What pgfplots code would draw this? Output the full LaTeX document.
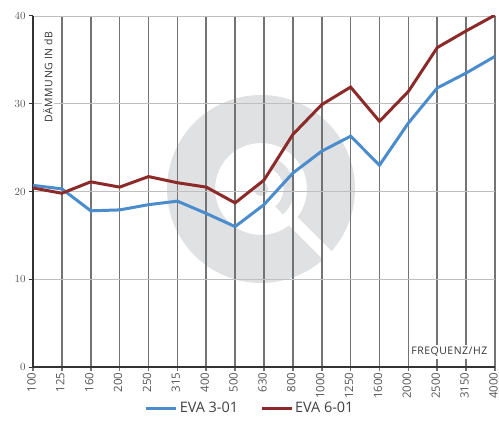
\documentclass[border=0pt]{standalone}
\usepackage{pgfplots}
\pgfplotsset{compat=1.18}
\usepackage{pgfplotstable}
\usepackage{fontspec}
\setmainfont{Open Sans}
\newfontfamily\spaced[LetterSpace=5]{Open Sans}

\definecolor{evablue}{RGB}{74,140,204}
\definecolor{evared}{RGB}{140,42,42}
\definecolor{wm}{RGB}{224,225,227}
\definecolor{ticktext}{RGB}{85,85,85}

% frequency index, EVA 3-01, EVA 6-01 (dB)
\pgfplotstableread{
x blue red
0 20.7 20.4
1 20.3 19.8
2 17.8 21.1
3 17.9 20.5
4 18.5 21.7
5 18.9 21.0
6 17.5 20.5
7 16.0 18.7
8 18.5 21.3
9 22.1 26.5
10 24.6 29.9
11 26.3 31.9
12 23.0 28.0
13 27.8 31.4
14 31.8 36.4
15 33.5 38.3
16 35.4 40.1
}\data

\begin{document}
\begin{tikzpicture}
\useasboundingbox (0,0) rectangle (499bp,429bp);
% watermark logo behind the chart
\coordinate (wmc) at (261bp,240bp);
\fill[wm, even odd rule] (wmc) circle[radius=94bp] (wmc) circle[radius=46bp];
\draw[white, line width=12bp] (wmc) ++(-45:40bp) -- ++(-45:60bp);
\draw[wm, line width=11bp] (wmc) ++(-50:28bp) arc[start angle=-50, end angle=60, radius=28bp];
\fill[wm] (wmc) circle[radius=7bp];
\begin{axis}[
    at={(33bp,62bp)}, anchor=south west,
    scale only axis, width=462bp, height=351bp,
    xmin=0, xmax=16, ymin=0, ymax=40,
    xtick={0,...,16},
    xticklabels={100,125,160,200,250,315,400,500,630,800,1000,1250,1600,2000,2500,3150,4000},
    ytick={0,10,20,30,40},
    axis x line*=bottom, axis y line*=left,
    axis line style={black!80, line width=1.4bp},
    tick align=outside, major tick length=4bp,
    xtick style={black!55, line width=1.7bp},
    ytick style={black!80, line width=1bp},
    xmajorgrids, ymajorgrids,
    x grid style={black!55, line width=1.7bp},
    y grid style={black!25, line width=0.9bp},
    xticklabel style={rotate=90, anchor=east, yshift=1.5bp, inner sep=1.5bp, text=ticktext,
        font=\fontsize{11.5}{12}\selectfont},
    yticklabel style={text=ticktext, font=\fontsize{11}{12}\selectfont},
    legend style={at={(0.47,-0.117)}, anchor=center, draw=none, fill=none, legend columns=2,
        font=\fontsize{14.5}{16}\selectfont, text=black!75,
        /tikz/every even column/.append style={column sep=20bp}},
    legend image code/.code={\draw[#1] (0bp,0bp) -- (30bp,0bp);},
]
\addplot[evablue, line width=3bp] table[x=x, y=blue] {\data};
\addplot[evared, line width=3bp] table[x=x, y=red] {\data};
\legend{EVA 3-01, EVA 6-01}
\node[fill=white, rotate=90, anchor=east, inner sep=1.5bp, text=black!80,
    font=\spaced\fontsize{10.5}{11}\selectfont] at (rel axis cs:0.032,0.961) {DÄMMUNG IN dB};
\node[fill=white, anchor=east, inner sep=2bp, text=black!80,
    font=\spaced\fontsize{10.5}{11}\selectfont] at (rel axis cs:0.988,0.043) {FREQUENZ/HZ};
\end{axis}
\end{tikzpicture}
\end{document}
